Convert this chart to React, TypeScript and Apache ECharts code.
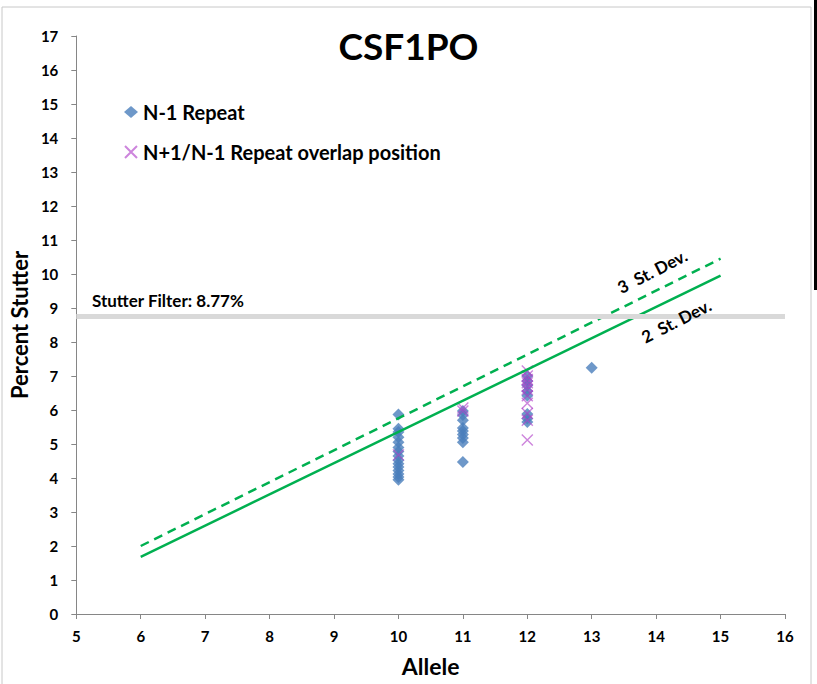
import React, { useEffect, useRef } from "react";
import * as echarts from "echarts";

const xTicks = [5, 6, 7, 8, 9, 10, 11, 12, 13, 14, 15, 16];
const nMinus1: [number, number][] = [
  [10, 5.87], [10, 5.45], [10, 5.35], [10, 5.2], [10, 5.05], [10, 4.9], [10, 4.78], [10, 4.65],
  [10, 4.52], [10, 4.42], [10, 4.32], [10, 4.22], [10, 4.12], [10, 4.03], [10, 3.95],
  [11, 5.97], [11, 5.85], [11, 5.7], [11, 5.47], [11, 5.38], [11, 5.28], [11, 5.18], [11, 5.05], [11, 4.47],
  [12, 7.0], [12, 6.85], [12, 6.72], [12, 6.55], [12, 6.42], [12, 5.88], [12, 5.75], [12, 5.65],
  [13, 7.24],
];
const overlap: [number, number][] = [
  [10, 4.68],
  [11, 6.06], [11, 5.97],
  [12, 7.15], [12, 7.0], [12, 6.9], [12, 6.8], [12, 6.7], [12, 6.6], [12, 6.42], [12, 6.2],
  [12, 5.9], [12, 5.7], [12, 5.12],
];
const twoSD: [number, number][] = [[6, 1.68], [15, 9.95]];
const threeSD: [number, number][] = [[6, 2.0], [15, 10.45]];
const stutterFilter = 8.77;

const FONT = "Lato, 'Liberation Sans', sans-serif";
const X_PATH = "path://M0,0L10,10M10,0L0,10";

export default function App() {
  const ref = useRef<HTMLDivElement>(null);
  useEffect(() => {
    if (!ref.current) return;
    const chart = echarts.init(ref.current, undefined, { renderer: "svg" });
    chart.setOption({
      animation: false,
      backgroundColor: "#ffffff",
      textStyle: { fontFamily: FONT },
      title: {
        text: "CSF1PO",
        left: "center",
        top: 22,
        textStyle: { fontFamily: FONT, fontWeight: "bold", fontSize: 37, color: "#000" },
      },
      legend: {
        orient: "vertical",
        left: 124,
        top: 102,
        padding: 0,
        itemGap: 20,
        itemWidth: 14,
        itemHeight: 12,
        textStyle: { fontFamily: FONT, fontWeight: "bold", fontSize: 20, color: "#000" },
        data: [
          { name: "N-1 Repeat", icon: "diamond", itemStyle: { color: "#4a7ebb" } },
          { name: "N+1/N-1 Repeat overlap position" },
        ],
      },
      grid: { left: 76, right: 32, top: 36, bottom: 70 },
      xAxis: {
        type: "value",
        min: 5,
        max: 16,
        interval: 1,
        name: "Allele",
        nameLocation: "middle",
        nameGap: 40,
        nameTextStyle: { fontFamily: FONT, fontWeight: "bold", fontSize: 23, color: "#000" },
        axisLine: { show: true, lineStyle: { color: "#868686", width: 1 } },
        axisTick: { show: true, inside: false, length: 5, lineStyle: { color: "#868686" } },
        axisLabel: {
          fontFamily: FONT, fontWeight: "bold", fontSize: 15, color: "#000", margin: 14,
          formatter: (v: number) => (xTicks.includes(v) ? String(v) : ""),
        },
        splitLine: { show: false },
      },
      yAxis: {
        type: "value",
        min: 0,
        max: 17,
        interval: 1,
        name: "Percent Stutter",
        nameLocation: "middle",
        nameGap: 46,
        nameTextStyle: { fontFamily: FONT, fontWeight: "bold", fontSize: 22, color: "#000" },
        axisLine: { show: true, lineStyle: { color: "#868686", width: 1 } },
        axisTick: { show: true, inside: false, length: 5, lineStyle: { color: "#868686" } },
        axisLabel: { fontFamily: FONT, fontWeight: "bold", fontSize: 15, color: "#000", margin: 18 },
        splitLine: { show: false },
      },
      series: [
        {
          name: "Stutter Filter",
          type: "line",
          data: [],
          silent: true,
          markLine: {
            silent: true,
            symbol: "none",
            lineStyle: { color: "#d9d9d9", width: 5, type: "solid" },
            label: { show: false },
            data: [{ yAxis: stutterFilter }],
          },
        },
        {
          name: "2 SD",
          type: "line",
          data: twoSD,
          showSymbol: false,
          lineStyle: { color: "#00b050", width: 2.5 },
          itemStyle: { color: "#00b050" },
          markPoint: {
            symbol: "circle",
            symbolSize: 0,
            label: {
              show: true, position: "inside", rotate: 27, formatter: "2  St. Dev.",
              fontFamily: FONT, fontWeight: "bold", fontSize: 17, color: "#000",
            },
            data: [{ coord: [14.31, 8.62] }],
          },
        },
        {
          name: "3 SD",
          type: "line",
          data: threeSD,
          showSymbol: false,
          lineStyle: { color: "#00b050", width: 2.5, type: [9, 6] },
          itemStyle: { color: "#00b050" },
          markPoint: {
            symbol: "circle",
            symbolSize: 0,
            label: {
              show: true, position: "inside", rotate: 27, formatter: "3  St. Dev.",
              fontFamily: FONT, fontWeight: "bold", fontSize: 17, color: "#000",
            },
            data: [{ coord: [13.94, 10.08] }],
          },
        },
        {
          name: "N-1 Repeat",
          type: "scatter",
          data: nMinus1,
          symbol: "diamond",
          symbolSize: 12,
          itemStyle: { color: "#4a7ebb" },
        },
        {
          name: "N+1/N-1 Repeat overlap position",
          type: "scatter",
          data: overlap,
          symbol: X_PATH,
          symbolSize: 11,
          itemStyle: { color: "rgba(0,0,0,0)", borderColor: "rgba(176,64,200,0.8)", borderWidth: 1.4 },
        },
      ],
      graphic: [
        {
          type: "rect",
          shape: { x: 2, y: 7, width: 809, height: 700 },
          style: { fill: "none", stroke: "#c8c8c8", lineWidth: 1 },
          silent: true,
          z: -10,
        },
        {
          type: "rect",
          shape: { x: 814, y: 0, width: 3, height: 290 },
          style: { fill: "#000" },
          silent: true,
        },
        {
          type: "text",
          left: 92,
          top: 292,
          style: {
            text: "Stutter Filter: 8.77%",
            fontFamily: FONT, fontWeight: "bold", fontSize: 17, fill: "#000",
          },
        },
      ],
    });
    return () => chart.dispose();
  }, []);
  return (
    <div
      ref={ref}
      style={{ position: "fixed", left: 0, top: 0, width: 817, height: 684 }}
    />
  );
}
